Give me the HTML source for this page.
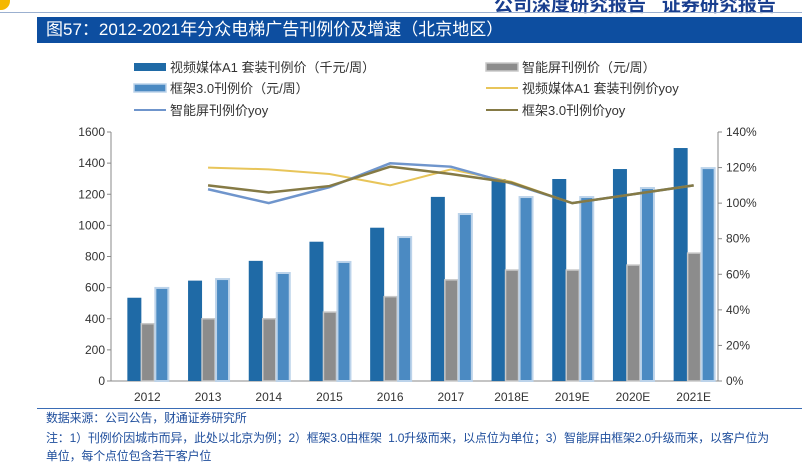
<!DOCTYPE html>
<html><head><meta charset="utf-8"><style>
body{margin:0;width:802px;height:458px;overflow:hidden;background:#fff;font-family:"Liberation Sans","Noto Sans CJK SC",sans-serif;position:relative}
.abs{position:absolute}
.ft{color:#1f4e9c;font-size:12px;left:46px;white-space:nowrap;letter-spacing:-0.2px}
</style></head><body>
<div class="abs" style="left:-8px;top:-8px;width:18px;height:18px;border-radius:50%;background:#f5b800"></div>
<div class="abs" style="left:494px;top:-10px;font-size:19px;font-weight:bold;color:#1a3f8f;white-space:nowrap">公司深度研究报告&nbsp;&nbsp;&nbsp;证券研究报告</div>
<div class="abs" style="left:0;top:12px;width:802px;height:1px;background:#9bb0d0"></div>
<div class="abs" style="left:37px;top:17px;width:765px;height:26px;background:#0d4ea0;color:#fff;font-size:17px;line-height:26px;padding-left:9px;box-sizing:border-box">图57：2012-2021年分众电梯广告刊例价及增速（北京地区）</div>
<svg class="abs" style="left:0;top:0" width="802" height="458" id="svg"></svg>
<div class="abs" style="left:37px;top:408px;width:765px;height:1px;background:#3a6cb5"></div>
<div class="abs ft" style="top:409px">数据来源：公司公告，财通证券研究所</div>
<div class="abs ft" style="top:429px">注：1）刊例价因城市而异，此处以北京为例；2）框架3.0由框架&nbsp;&nbsp;1.0升级而来，以点位为单位；3）智能屏由框架2.0升级而来，以客户位为</div>
<div class="abs ft" style="top:447px">单位，每个点位包含若干客户位</div>
<script>
const categories=["2012","2013","2014","2015","2016","2017","2018E","2019E","2020E","2021E"];
const videoA1=[535,645,772,895,985,1183,1298,1298,1362,1497];
const smartScreen=[368,400,400,443,542,650,713,713,745,822];
const frame30=[598,655,694,765,925,1073,1182,1182,1240,1368];
const videoYoy=[null,120,119,116.4,110,119,112,100,105,110];
const smartYoy=[null,107.8,100,109,122.4,120.5,111,100,105,110];
const frameYoy=[null,110,106,109.6,120.5,116.4,111.5,100,105,110];
const leftTicks=[0,200,400,600,800,1000,1200,1400,1600];
const rightTicks=[0,20,40,60,80,100,120,140];
const NS="http://www.w3.org/2000/svg",svg=document.getElementById('svg');
const X0=111,X1=718,Y0=381,Y1=132,band=(X1-X0)/categories.length;
const cx=i=>X0+band*(i+0.5);
const yL=v=>Y0-(v/1600)*(Y0-Y1);
const yR=v=>Y0-(v/140)*(Y0-Y1);
function mk(t,a,txt){const e=document.createElementNS(NS,t);for(const k in a)e.setAttribute(k,a[k]);if(txt!=null)e.textContent=txt;svg.appendChild(e);return e;}
mk('line',{x1:X0,y1:Y1,x2:X0,y2:Y0,stroke:'#888'});
mk('line',{x1:X1,y1:Y1,x2:X1,y2:Y0,stroke:'#888'});
mk('line',{x1:X0,y1:Y0,x2:X1,y2:Y0,stroke:'#888'});
leftTicks.forEach(v=>{const y=yL(v);
const t=mk('line',{x1:X0-4,y1:y,x2:X0,y2:y,stroke:'#888'});
const l=mk('text',{x:X0-6,y:y+4,'text-anchor':'end','font-size':12,fill:'#333'},v);});
rightTicks.forEach(v=>{const y=yR(v);
const t=mk('line',{x1:X1,y1:y,x2:X1+4,y2:y,stroke:'#888'});
const l=mk('text',{x:X1+8,y:y+4,'font-size':12,fill:'#333'},v+'%');});
categories.forEach((c,i)=>{const x=cx(i);
const l=mk('text',{x:x+6,y:401,'text-anchor':'middle','font-size':12,fill:'#333'},c);
let b=mk('rect',{x:x-14,y:yL(videoA1[i]),width:14,height:Y0-yL(videoA1[i]),fill:'#1f6aa6'});
b=mk('rect',{x:x,y:yL(smartScreen[i]),width:13,height:Y0-yL(smartScreen[i]),fill:'#8c8c8c',stroke:'#c8c8c8','stroke-width':1.5});
b=mk('rect',{x:x+14,y:yL(frame30[i]),width:13,height:Y0-yL(frame30[i]),fill:'#4b8ac2',stroke:'#bcd3ea','stroke-width':2});
});
function line(arr,col,name,w){const pts=[];arr.forEach((v,i)=>{if(v!=null)pts.push(cx(i)+(i?6:0)+','+yR(v));});
const p=mk('polyline',{points:pts.join(' '),fill:'none',stroke:col,'stroke-width':w});}
line(videoYoy,'#e8c55a','line-video-yoy',2);
line(smartYoy,'#6f95cc','line-smart-yoy',2.5);
line(frameYoy,'#857a45','line-frame-yoy',2.5);
const leg=[[134,67,'rect','#1f6aa6','视频媒体A1 套装刊例价（千元/周）','legend-video-a1'],[486,67,'rect','#8c8c8c','智能屏刊例价（元/周）','legend-smart-screen'],[134,88,'rect','#4b8ac2','框架3.0刊例价（元/周）','legend-frame-3'],[486,88,'line','#e8c55a','视频媒体A1 套装刊例价yoy','legend-video-yoy'],[134,110,'line','#6f95cc','智能屏刊例价yoy','legend-smart-yoy'],[486,110,'line','#857a45','框架3.0刊例价yoy','legend-frame-yoy']];
leg.forEach(([x,y,t,c,txt,n])=>{
const s=t=='rect'?mk('rect',{x:x,y:y-4,width:32,height:8,fill:c,stroke:c=='#1f6aa6'?'none':(c=='#8c8c8c'?'#c8c8c8':'#bcd3ea'),'stroke-width':1.5}):mk('line',{x1:x,y1:y,x2:x+32,y2:y,stroke:c,'stroke-width':2});
const g=mk('text',{x:x+36,y:y+5,'font-size':13,fill:'#333'},txt);});
</script>
</body></html>
